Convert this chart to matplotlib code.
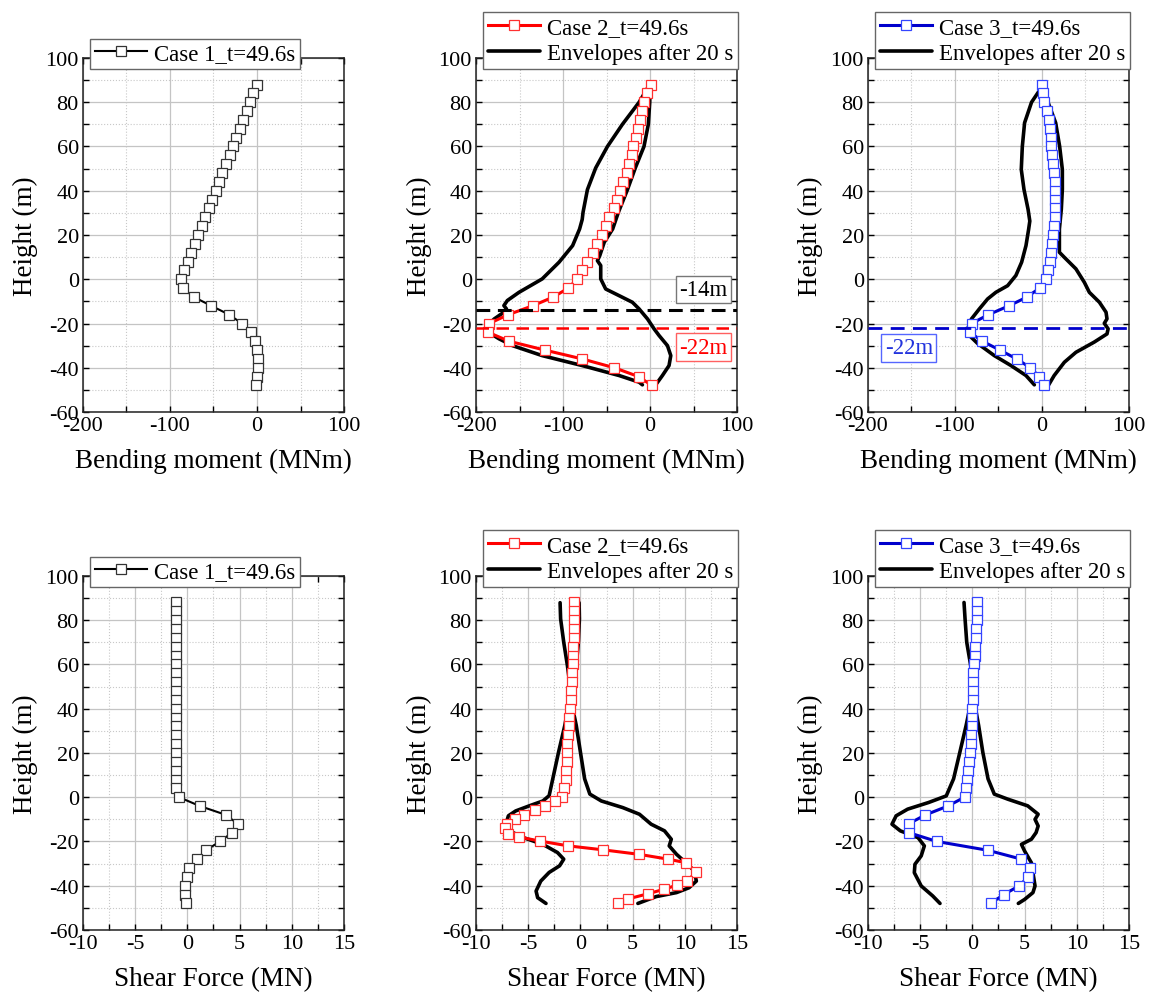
import matplotlib
matplotlib.use("Agg")
import matplotlib.pyplot as plt
from matplotlib.ticker import MultipleLocator

plt.rcParams['font.family'] = ['Liberation Serif', 'DejaVu Serif']
plt.rcParams['axes.unicode_minus'] = False

# ---- data -------------------------------------------------------------
# heights of the section points (m)
heights = [88, 84, 80, 76, 72, 68, 64, 60, 56, 52, 48, 44, 40, 36, 32, 28, 24,
           20, 16, 12, 8, 4, 0, -4, -8, -12, -16, -20, -24, -28, -32, -36,
           -40, -44, -48]

# bending moment at t=49.6s (MNm)
c1_bm = [0, -4.6, -7.7, -12, -16, -20, -24, -27.6, -31.4, -36, -40, -43.7,
         -47.5, -51.7, -55.6, -59.4, -63.6, -67.8, -71.6, -75.5, -79.7, -83.5,
         -87.4, -85, -72.8, -52.5, -32, -17.2, -6.9, -2, 0.4, 1.5, 0.8, 0, -0.8]
c2_bm = [1, -3, -7, -9, -11.5, -13.4, -16.5, -19.5, -21, -24, -27, -31, -34,
         -38, -42, -47, -51, -55.6, -60.5, -66, -72, -78, -84, -94, -111, -135,
         -163, -185, -186, -162, -121, -78, -41, -13, 2]
c3_bm = [0, 1.5, 2.3, 5.7, 7.7, 8.8, 10, 10.7, 11.9, 12.6, 13.8, 14.6, 15.3,
         15.3, 15.3, 15.3, 13.8, 12.6, 11.5, 10, 8.8, 6.9, 4.2, -2.8, -17, -38,
         -61.5, -81, -83, -68.5, -48.5, -29, -13.4, -3, 2.3]

# shear force at t=49.6s (MN)
c1_sf = [-1.06, -1.06, -1.06, -1.06, -1.06, -1.06, -1.06, -1.06, -1.06, -1.06,
         -1.06, -1.06, -1.06, -1.06, -1.06, -1.06, -1.06, -1.06, -1.06, -1.06,
         -1.06, -1.06, -0.8, 1.2, 3.7, 4.8, 4.3, 3.1, 1.8, 0.9, 0.2, -0.06,
         -0.2, -0.2, -0.15]
c2_sf_h = [88, 84, 80, 76, 72, 68, 64, 60, 56, 52, 48, 44, 40, 36, 32, 28, 24,
           20, 16, 12, 8, 4, 0, -1.8, -3.9, -5.9, -8, -10, -12, -14, -16.5,
           -18, -19.8, -22, -23.8, -25.8, -28, -29.6, -33.8, -37.9, -39.8,
           -41.6, -43.6, -45.9, -47.7]
c2_sf = [-0.6, -0.6, -0.6, -0.6, -0.65, -0.67, -0.74, -0.74, -0.8, -0.83, -0.9,
         -0.93, -1.0, -1.05, -1.1, -1.15, -1.25, -1.25, -1.3, -1.37, -1.4,
         -1.56, -1.75, -2.4, -3.35, -4.35, -5.4, -6.3, -7.0, -7.2, -6.9, -5.85,
         -3.9, -1.15, 2.2, 5.6, 8.4, 10.1, 11.1, 10.2, 9.2, 8.0, 6.5, 4.6, 3.6]
c3_sf = [0.4, 0.4, 0.4, 0.35, 0.3, 0.25, 0.25, 0.2, 0.1, 0.1, 0.1, 0.03, 0, 0,
         -0.06, -0.13, -0.16, -0.22, -0.32, -0.45, -0.54, -0.64, -0.75, -2.35,
         -4.5, -6.1, -6.1, -3.4, 1.5, 4.7, 5.55, 5.35, 4.5, 3.0, 1.75]

# envelopes after 20 s
env2_bm_min_y = [87, 80, 70, 60, 50.3, 40.5, 30.3, 27, 22.7, 15.2, 7.7, 0.15,
                 -5.9, -9.6, -11.9, -13.4, -14.9, -17.9, -20.9, -23.9, -26.9,
                 -30, -34.5, -39, -43.5, -46.5, -47.7]
env2_bm_min_x = [-2, -12.6, -31.8, -49, -62.5, -72, -77, -78, -81, -89,
                 -104.6, -124, -150.6, -164, -168, -165, -168, -179, -187,
                 -186, -173.6, -158, -124, -78, -35.6, -12.6, -8.8]
env2_bm_max_y = [87, 80, 70, 60, 50.3, 40.5, 30.3, 22.7, 16.7, 10.7, 8.4, 6.2,
                 0.15, -4.4, -7.4, -10.4, -13.4, -17.9, -22.4, -25.4, -30,
                 -34.5, -39, -43.5, -47.7]
env2_bm_max_x = [0, -0.4, -2, -7, -17, -26, -36.4, -43, -52.7, -57.8, -60.5,
                 -56.7, -56.7, -51, -35.6, -20.3, -12.6, -3, 4.6, 10.3, 20,
                 23.8, 21.8, 14.2, 6.5]

env3_bm_min_y = [87, 80, 70.7, 60, 49.6, 40.6, 31.6, 26.3, 22.7, 15.2, 7.7, 1.7,
                 -2.9, -5.9, -8.9, -13.4, -17.9, -22.4, -25.4, -29, -34.5, -39,
                 -43.5, -47.7]
env3_bm_min_x = [0, -12, -20, -22.6, -23.8, -20.7, -16, -14, -15.3, -18.4,
                 -23.4, -30, -39.5, -53, -62.5, -72, -81, -85.4, -83.5, -74,
                 -54.8, -35.6, -18.4, -8.8]
env3_bm_max_y = [87, 80, 70.7, 60, 49.6, 40.6, 31.6, 22.7, 15.2, 12.2, 9.9, 4.7,
                 -1.4, -5.9, -10.4, -14.9, -17.9, -19.9, -22.4, -24.7, -28.4,
                 -33, -37.5, -43.5, -47.7]
env3_bm_max_x = [0, 6.9, 15.7, 20.3, 23.4, 23.4, 22.2, 20, 20, 20, 25.7, 39,
                 48.7, 54.4, 66, 73.6, 74.7, 71.6, 76, 74.7, 60, 39, 25.7, 14,
                 7.7]

env2_sf_min_y = [87.9, 80.6, 70, 59.5, 50.5, 41.4, 32.4, 20.3, 8.3, 0.7, -1.7,
                 -3.9, -6.2, -8.4, -11.5, -15.2, -18.2, -21.3, -25, -28, -31,
                 -34, -37.9, -42.4, -45.4, -48]
env2_sf_min_x = [-1.95, -1.9, -1.6, -1.25, -1.0, -1.15, -1.5, -2.1, -2.65,
                 -3.0, -3.6, -4.9, -6.2, -6.9, -7.1, -6.8, -5.5, -3.6, -2.2,
                 -1.6, -2.0, -3.0, -3.8, -4.25, -4.1, -3.3]
env2_sf_max_y = [87.9, 80.6, 70, 59.5, 50.5, 41.4, 32.4, 20.3, 8.3, 1.4, -1.7,
                 -4.7, -7.7, -12.2, -15.2, -19, -22, -25.8, -29.6, -33.3,
                 -37.9, -40.9, -43.1, -44.9, -48]
env2_sf_max_x = [-0.13, -0.1, -0.2, -0.4, -0.67, -0.8, -0.4, 0.0, 0.4, 0.9,
                 2.0, 4.06, 5.65, 6.77, 8.05, 8.7, 8.5, 9.2, 10.1, 10.9, 11.1,
                 10.4, 9.2, 7.25, 5.5]

env3_sf_min_y = [88, 80.5, 70, 59.5, 50.5, 41.4, 32.4, 20.3, 8.3, 0.6, -2.4,
                 -5.4, -8.4, -12.2, -15.2, -18.3, -22, -26.5, -30.3, -34.1,
                 -40.1, -44.6, -48]
env3_sf_min_x = [-0.8, -0.7, -0.54, -0.16, 0.1, -0.2, -0.6, -1.2, -1.8, -2.5,
                 -4.2, -6.2, -7.3, -7.7, -6.9, -5.2, -4.6, -4.9, -5.5, -5.56,
                 -4.9, -3.8, -3.1]
env3_sf_max_y = [88, 80.5, 70, 59.5, 50.5, 41.4, 32.4, 20.3, 8.3, 1.4, -0.9,
                 -3.9, -7.7, -10, -13, -16, -19, -21.3, -24.3, -29.6, -34.1,
                 -40.1, -43.1, -46.2, -48]
env3_sf_max_x = [0.8, 0.7, 0.54, 0.2, 0.1, 0.25, 0.6, 1.0, 1.5, 2.1, 3.4, 5.3,
                 6.3, 6.0, 6.3, 6.1, 5.65, 4.7, 5.0, 5.65, 5.8, 6.0, 5.8, 5.0,
                 4.4]

RED = '#ff0000'
BLUE = '#0000cc'
LEG1 = 'Case 1_t=49.6s'
LEG2 = 'Case 2_t=49.6s'
LEG3 = 'Case 3_t=49.6s'
LEGE = 'Envelopes after 20 s'

# ---- layout -----------------------------------------------------------
fig = plt.figure(figsize=(11.49, 10.03), dpi=100)
lefts = [0.0722, 0.4143, 0.7554]
bottoms = [0.5882, 0.0718]
W, H = 0.2272, 0.353


def style_axes(ax, kind):
    if kind == 'bm':
        ax.set_xlim(-200, 100)
        ax.xaxis.set_major_locator(MultipleLocator(100))
        ax.xaxis.set_minor_locator(MultipleLocator(50))
        ax.set_xlabel('Bending moment (MNm)', fontsize=19.5, labelpad=9)
    else:
        ax.set_xlim(-10, 15)
        ax.xaxis.set_major_locator(MultipleLocator(5))
        ax.xaxis.set_minor_locator(MultipleLocator(2.5))
        ax.set_xlabel('Shear Force (MN)', fontsize=19.5, labelpad=9)
    ax.set_ylim(-60, 100)
    ax.yaxis.set_major_locator(MultipleLocator(20))
    ax.yaxis.set_minor_locator(MultipleLocator(10))
    ax.set_ylabel('Height (m)', fontsize=19.5, labelpad=5)
    ax.grid(which='major', color='#c4c4c4', linewidth=0.9, linestyle='-')
    ax.grid(which='minor', color='#c8c8c8', linewidth=0.8, linestyle=':')
    ax.set_axisbelow(True)
    ax.tick_params(which='both', direction='in', top=True, right=True,
                   length=4, width=1, labelsize=16, pad=3)
    for s in ax.spines.values():
        s.set_linewidth(1.1)
        s.set_color('#222222')


def add_legend(ax):
    leg = ax.legend(loc='lower left', bbox_to_anchor=(0.027, 0.969),
                    borderaxespad=0, fontsize=16.5, frameon=True,
                    fancybox=False, framealpha=1, edgecolor='#666666',
                    handlelength=2.3, handletextpad=0.3, labelspacing=0.25,
                    borderpad=0.2)
    leg.get_frame().set_linewidth(1.0)
    leg.set_zorder(10)


def case_line(ax, x, y, color, mec, label, lw=2.2):
    ax.plot(x, y, color=color, linewidth=lw, marker='s', markersize=7,
            markerfacecolor='white', markeredgecolor=mec,
            markeredgewidth=0.9, label=label, zorder=4)


def env_lines(ax, x1, y1, x2, y2):
    ax.plot(x1, y1, color='black', linewidth=2.6, label=LEGE, zorder=3,
            solid_joinstyle='round', solid_capstyle='round')
    ax.plot(x2, y2, color='black', linewidth=2.6, zorder=3,
            solid_joinstyle='round', solid_capstyle='round')


def box_text(ax, x, y, s, color, edge):
    ax.text(x, y, s, color=color, fontsize=16.5, ha='center', va='center',
            zorder=6, bbox=dict(boxstyle='square,pad=0.15', fc='white',
                                ec=edge, lw=1.0))


# Case 1 bending
ax = fig.add_axes([lefts[0], bottoms[0], W, H])
style_axes(ax, 'bm')
case_line(ax, c1_bm, heights, 'black', '#333333', LEG1, lw=1.5)
add_legend(ax)

# Case 2 bending
ax = fig.add_axes([lefts[1], bottoms[0], W, H])
style_axes(ax, 'bm')
case_line(ax, c2_bm, heights, RED, '#ff3030', LEG2)
env_lines(ax, env2_bm_min_x, env2_bm_min_y, env2_bm_max_x, env2_bm_max_y)
ax.axhline(-14, color='black', linewidth=2.2, dashes=(4.5, 2.5), zorder=5)
ax.axhline(-22, color=RED, linewidth=1.8, dashes=(5, 3), zorder=5)
box_text(ax, 61, -4.6, '-14m', 'black', '#777777')
box_text(ax, 61.5, -30.8, '-22m', RED, '#ff6060')
add_legend(ax)

# Case 3 bending
ax = fig.add_axes([lefts[2], bottoms[0], W, H])
style_axes(ax, 'bm')
case_line(ax, c3_bm, heights, BLUE, '#3344ff', LEG3)
env_lines(ax, env3_bm_min_x, env3_bm_min_y, env3_bm_max_x, env3_bm_max_y)
ax.axhline(-22, color=BLUE, linewidth=2.0, dashes=(5, 3), zorder=5)
box_text(ax, -153, -30.9, '-22m', '#2233dd', '#5566ff')
add_legend(ax)

# Case 1 shear
ax = fig.add_axes([lefts[0], bottoms[1], W, H])
style_axes(ax, 'sf')
case_line(ax, c1_sf, heights, 'black', '#333333', LEG1, lw=1.5)
add_legend(ax)

# Case 2 shear
ax = fig.add_axes([lefts[1], bottoms[1], W, H])
style_axes(ax, 'sf')
case_line(ax, c2_sf, c2_sf_h, RED, '#ff3030', LEG2)
env_lines(ax, env2_sf_min_x, env2_sf_min_y, env2_sf_max_x, env2_sf_max_y)
add_legend(ax)

# Case 3 shear
ax = fig.add_axes([lefts[2], bottoms[1], W, H])
style_axes(ax, 'sf')
case_line(ax, c3_sf, heights, BLUE, '#3344ff', LEG3)
env_lines(ax, env3_sf_min_x, env3_sf_min_y, env3_sf_max_x, env3_sf_max_y)
add_legend(ax)

fig.savefig('out.png', dpi=100)
